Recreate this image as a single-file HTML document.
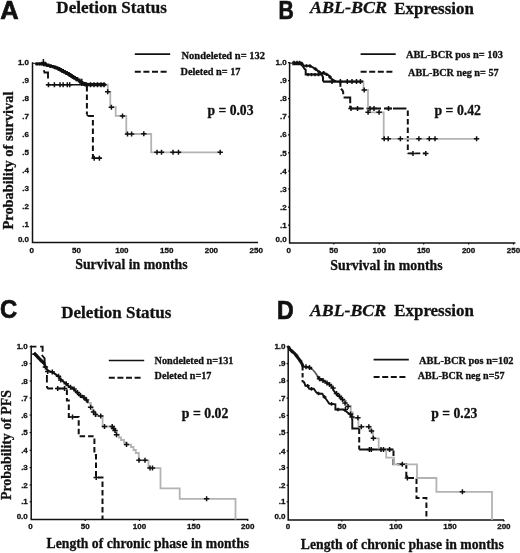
<!DOCTYPE html>
<html><head><meta charset="utf-8"><style>
html,body{margin:0;padding:0;background:#fff;}
svg{display:block;filter:grayscale(1);}
</style></head><body>
<svg width="520" height="553" viewBox="0 0 520 553">
<rect width="520" height="553" fill="#fff"/>
<text x="0.2" y="18.8" font-family="&quot;Liberation Sans&quot;, sans-serif" font-size="25" font-weight="bold" font-style="normal" text-anchor="start" fill="#111" textLength="18.4" lengthAdjust="spacingAndGlyphs" stroke="#111" stroke-width="0.7">A</text>
<text x="56.3" y="12.8" font-family="&quot;Liberation Serif&quot;, serif" font-size="17" font-weight="bold" font-style="normal" text-anchor="start" fill="#111" textLength="110.5" lengthAdjust="spacingAndGlyphs" stroke="#111" stroke-width="0.3">Deletion Status</text>
<path d="M32.5,62.2 V242.6 H258" stroke="#111" stroke-width="1.5" fill="none"/>
<text x="29" y="241.9" font-family="&quot;Liberation Sans&quot;, sans-serif" font-size="8" font-weight="bold" font-style="normal" text-anchor="end" fill="#111" stroke="#111" stroke-width="0.3">0.0</text>
<text x="29" y="227" font-family="&quot;Liberation Sans&quot;, sans-serif" font-size="8" font-weight="bold" font-style="normal" text-anchor="end" fill="#111" stroke="#111" stroke-width="0.3">.1</text>
<text x="29" y="208.9" font-family="&quot;Liberation Sans&quot;, sans-serif" font-size="8" font-weight="bold" font-style="normal" text-anchor="end" fill="#111" stroke="#111" stroke-width="0.3">.2</text>
<text x="29" y="190.9" font-family="&quot;Liberation Sans&quot;, sans-serif" font-size="8" font-weight="bold" font-style="normal" text-anchor="end" fill="#111" stroke="#111" stroke-width="0.3">.3</text>
<text x="29" y="172.9" font-family="&quot;Liberation Sans&quot;, sans-serif" font-size="8" font-weight="bold" font-style="normal" text-anchor="end" fill="#111" stroke="#111" stroke-width="0.3">.4</text>
<text x="29" y="154.8" font-family="&quot;Liberation Sans&quot;, sans-serif" font-size="8" font-weight="bold" font-style="normal" text-anchor="end" fill="#111" stroke="#111" stroke-width="0.3">.5</text>
<text x="29" y="136.8" font-family="&quot;Liberation Sans&quot;, sans-serif" font-size="8" font-weight="bold" font-style="normal" text-anchor="end" fill="#111" stroke="#111" stroke-width="0.3">.6</text>
<text x="29" y="118.7" font-family="&quot;Liberation Sans&quot;, sans-serif" font-size="8" font-weight="bold" font-style="normal" text-anchor="end" fill="#111" stroke="#111" stroke-width="0.3">.7</text>
<text x="29" y="100.6" font-family="&quot;Liberation Sans&quot;, sans-serif" font-size="8" font-weight="bold" font-style="normal" text-anchor="end" fill="#111" stroke="#111" stroke-width="0.3">.8</text>
<text x="29" y="82.8" font-family="&quot;Liberation Sans&quot;, sans-serif" font-size="8" font-weight="bold" font-style="normal" text-anchor="end" fill="#111" stroke="#111" stroke-width="0.3">.9</text>
<text x="29" y="64.6" font-family="&quot;Liberation Sans&quot;, sans-serif" font-size="8" font-weight="bold" font-style="normal" text-anchor="end" fill="#111" stroke="#111" stroke-width="0.3">1.0</text>
<text x="31.8" y="252.9" font-family="&quot;Liberation Sans&quot;, sans-serif" font-size="8" font-weight="bold" font-style="normal" text-anchor="middle" fill="#111" stroke="#111" stroke-width="0.3">0</text>
<text x="76.4" y="252.9" font-family="&quot;Liberation Sans&quot;, sans-serif" font-size="8" font-weight="bold" font-style="normal" text-anchor="middle" fill="#111" stroke="#111" stroke-width="0.3">50</text>
<text x="121.9" y="252.9" font-family="&quot;Liberation Sans&quot;, sans-serif" font-size="8" font-weight="bold" font-style="normal" text-anchor="middle" fill="#111" stroke="#111" stroke-width="0.3">100</text>
<text x="166.7" y="252.9" font-family="&quot;Liberation Sans&quot;, sans-serif" font-size="8" font-weight="bold" font-style="normal" text-anchor="middle" fill="#111" stroke="#111" stroke-width="0.3">150</text>
<text x="211.4" y="252.9" font-family="&quot;Liberation Sans&quot;, sans-serif" font-size="8" font-weight="bold" font-style="normal" text-anchor="middle" fill="#111" stroke="#111" stroke-width="0.3">200</text>
<text x="256.2" y="252.9" font-family="&quot;Liberation Sans&quot;, sans-serif" font-size="8" font-weight="bold" font-style="normal" text-anchor="middle" fill="#111" stroke="#111" stroke-width="0.3">250</text>
<text x="13" y="229.5" font-family="&quot;Liberation Serif&quot;, serif" font-size="14.6" font-weight="bold" font-style="normal" text-anchor="start" fill="#111" textLength="138" lengthAdjust="spacingAndGlyphs" transform="rotate(-90 13 229.5)" stroke="#111" stroke-width="0.3">Probability of survival</text>
<text x="75.2" y="268.8" font-family="&quot;Liberation Serif&quot;, serif" font-size="15" font-weight="bold" font-style="normal" text-anchor="start" fill="#111" textLength="112.5" lengthAdjust="spacingAndGlyphs" stroke="#111" stroke-width="0.3">Survival in months</text>
<path d="M134.8,54.2H170.2" stroke="#111" stroke-width="1.7" fill="none"/>
<path d="M134.8,71.8H166.8" stroke="#111" stroke-width="1.9" fill="none" stroke-dasharray="6,2.6"/>
<text x="181.5" y="58.7" font-family="&quot;Liberation Serif&quot;, serif" font-size="10.5" font-weight="bold" font-style="normal" text-anchor="start" fill="#111" textLength="83.5" lengthAdjust="spacingAndGlyphs" stroke="#111" stroke-width="0.3">Nondeleted n= 132</text>
<text x="180.5" y="74.6" font-family="&quot;Liberation Serif&quot;, serif" font-size="10.5" font-weight="bold" font-style="normal" text-anchor="start" fill="#111" textLength="60" lengthAdjust="spacingAndGlyphs" stroke="#111" stroke-width="0.3">Deleted n= 17</text>
<text x="207.5" y="114.6" font-family="&quot;Liberation Serif&quot;, serif" font-size="14" font-weight="bold" font-style="normal" text-anchor="start" fill="#111" textLength="46" lengthAdjust="spacingAndGlyphs" stroke="#111" stroke-width="0.3">p = 0.03</text>
<path d="M32.6,63.3H35.5" stroke="#111" stroke-width="1.0" fill="none"/>
<path d="M35.3,63.8 L43.4,63.8 L45.5,63.8 L45.5,64.8 L48,64.8 L48,65.6 L50.5,65.6 L50.5,66.3 L53,66.3 L53,66.9 L55,66.9 L55,67.6 L57,67.6 L57,68.4 L59,68.4 L59,69.4 L60.8,69.4 L60.8,70.4 L62.6,70.4 L62.6,71.4 L64.5,71.4 L64.5,72.4 L66.5,72.4 L66.5,73.4 L68.5,73.4 L68.5,74.4 L70,74.4 L70,75.4 L71.5,75.4 L71.5,76.3 L73,76.3 L73,77.3 L74.6,77.3 L74.6,78.3 L77,78.3 L77,79.8 L79.2,79.8 L79.2,81.2 L80.6,81.2 L80.6,82.3 L82,82.3 L82,83.5 L84.5,83.5 L84.5,84.7 L105.6,84.7" stroke="#111" stroke-width="2.8" fill="none" stroke-linejoin="miter"/>
<path d="M43.8,70.2 L44.5,72.5 H48 V78.4" stroke="#111" stroke-width="1.9" fill="none"/>
<path d="M46.8,84.7 H87" stroke="#111" stroke-width="1.6" fill="none"/>
<path d="M86.9,85 V114.5" stroke="#111" stroke-width="2.0" fill="none" stroke-dasharray="5.5,3" stroke-dashoffset="-1"/>
<path d="M86.9,114.5 Q87.5,116 89,116 H93 V117" stroke="#111" stroke-width="1.9" fill="none"/>
<path d="M92.9,117 V158.2" stroke="#111" stroke-width="2.0" fill="none" stroke-dasharray="5.5,3" stroke-dashoffset="-3"/>
<path d="M92.9,158.2 H101.5" stroke="#111" stroke-width="1.7" fill="none"/>
<path d="M105.6,84.7 L107.8,84.7 L107.8,91.8 L110.3,91.8 L110.3,107.2 L115.7,107.2 L115.7,115.9 L126.3,115.9 L126.3,134 L151.2,134 L151.2,152.3 L221,152.3" stroke="#b3b3b3" stroke-width="1.8" fill="none" stroke-linejoin="miter"/>
<path d="M105,91.8h5.4M107.7,89.32v4.97M108.7,107.2h5.4M111.4,104.72v4.97M119.8,115.9h5.4M122.5,113.42v4.97M124.8,134h5.4M127.5,131.52v4.97M128.9,134h5.4M131.6,131.52v4.97M141.1,133.8h5.4M143.8,131.32v4.97M154.3,152.3h5.4M157,149.82v4.97M158.8,152.3h5.4M161.5,149.82v4.97M170.3,152.3h5.4M173,149.82v4.97M175.8,152.3h5.4M178.5,149.82v4.97M217.5,152.2h5.4M220.2,149.72v4.97M91.5,158.2h5.4M94.2,155.72v4.97M96.7,158.2h5.4M99.4,155.72v4.97" stroke="#111" stroke-width="1.5" fill="none"/>
<path d="M45.8,84.7h5.4M48.5,82.22v4.97M51.7,84.7h5.4M54.4,82.22v4.97M57.3,84.7h5.4M60,82.22v4.97M60.4,84.7h5.4M63.1,82.22v4.97M64.6,84.7h5.4M67.3,82.22v4.97M67,84.7h5.4M69.7,82.22v4.97M83.7,84.7h5.4M86.4,82.22v4.97M87.8,84.7h5.4M90.5,82.22v4.97M91.3,84.7h5.4M94,82.22v4.97M94.8,84.7h5.4M97.5,82.22v4.97M98.3,84.7h5.4M101,82.22v4.97M101.3,84.7h5.4M104,82.22v4.97" stroke="#111" stroke-width="1.5" fill="none"/>
<path d="M79.2,82.4h5.2M81.8,78.8v7.2M40.8,62.6h5.2M43.4,59v7.2" stroke="#111" stroke-width="1.5" fill="none"/>
<path d="M84,84.6 H105.4" stroke="#111" stroke-width="3.4" fill="none"/>
<path d="M35.2,63.8h3.6M37,62.14v3.31M37.7,63.8h3.6M39.5,62.14v3.31M39.7,63.8h3.6M41.5,62.14v3.31M44.7,65.2h3.6M46.5,63.54v3.31M48.7,66.3h3.6M50.5,64.64v3.31M53.2,67.6h3.6M55,65.94v3.31M57.2,69.4h3.6M59,67.74v3.31M60.7,71.4h3.6M62.5,69.74v3.31M64.7,73.4h3.6M66.5,71.74v3.31M68.2,75.4h3.6M70,73.74v3.31M71.2,77.3h3.6M73,75.64v3.31M74.7,79.5h3.6M76.5,77.84v3.31" stroke="#111" stroke-width="1.5" fill="none"/>
<text x="278.6" y="18.8" font-family="&quot;Liberation Sans&quot;, sans-serif" font-size="25" font-weight="bold" font-style="normal" text-anchor="start" fill="#111" textLength="15.3" lengthAdjust="spacingAndGlyphs" stroke="#111" stroke-width="0.7">B</text>
<text x="310" y="13.3" font-family="&quot;Liberation Serif&quot;, serif" font-size="17" font-weight="bold" font-style="italic" text-anchor="start" fill="#111" textLength="77" lengthAdjust="spacingAndGlyphs" stroke="#111" stroke-width="0.3">ABL-BCR</text>
<text x="394.3" y="13.5" font-family="&quot;Liberation Serif&quot;, serif" font-size="17" font-weight="bold" font-style="normal" text-anchor="start" fill="#111" textLength="79.5" lengthAdjust="spacingAndGlyphs" stroke="#111" stroke-width="0.3">Expression</text>
<path d="M289.6,62.2 V243 H515.4" stroke="#111" stroke-width="1.5" fill="none"/>
<text x="286.6" y="242.4" font-family="&quot;Liberation Sans&quot;, sans-serif" font-size="8" font-weight="bold" font-style="normal" text-anchor="end" fill="#111" stroke="#111" stroke-width="0.3">0.0</text>
<text x="286.6" y="227.7" font-family="&quot;Liberation Sans&quot;, sans-serif" font-size="8" font-weight="bold" font-style="normal" text-anchor="end" fill="#111" stroke="#111" stroke-width="0.3">.1</text>
<path d="M288,225.1h1.6" stroke="#111" stroke-width="1.2"/>
<text x="286.6" y="209.8" font-family="&quot;Liberation Sans&quot;, sans-serif" font-size="8" font-weight="bold" font-style="normal" text-anchor="end" fill="#111" stroke="#111" stroke-width="0.3">.2</text>
<path d="M288,207.2h1.6" stroke="#111" stroke-width="1.2"/>
<text x="286.6" y="191.6" font-family="&quot;Liberation Sans&quot;, sans-serif" font-size="8" font-weight="bold" font-style="normal" text-anchor="end" fill="#111" stroke="#111" stroke-width="0.3">.3</text>
<path d="M288,189h1.6" stroke="#111" stroke-width="1.2"/>
<text x="286.6" y="173.6" font-family="&quot;Liberation Sans&quot;, sans-serif" font-size="8" font-weight="bold" font-style="normal" text-anchor="end" fill="#111" stroke="#111" stroke-width="0.3">.4</text>
<path d="M288,171h1.6" stroke="#111" stroke-width="1.2"/>
<text x="286.6" y="155.5" font-family="&quot;Liberation Sans&quot;, sans-serif" font-size="8" font-weight="bold" font-style="normal" text-anchor="end" fill="#111" stroke="#111" stroke-width="0.3">.5</text>
<path d="M288,152.9h1.6" stroke="#111" stroke-width="1.2"/>
<text x="286.6" y="137.4" font-family="&quot;Liberation Sans&quot;, sans-serif" font-size="8" font-weight="bold" font-style="normal" text-anchor="end" fill="#111" stroke="#111" stroke-width="0.3">.6</text>
<path d="M288,134.8h1.6" stroke="#111" stroke-width="1.2"/>
<text x="286.6" y="119.4" font-family="&quot;Liberation Sans&quot;, sans-serif" font-size="8" font-weight="bold" font-style="normal" text-anchor="end" fill="#111" stroke="#111" stroke-width="0.3">.7</text>
<path d="M288,116.8h1.6" stroke="#111" stroke-width="1.2"/>
<text x="286.6" y="101.2" font-family="&quot;Liberation Sans&quot;, sans-serif" font-size="8" font-weight="bold" font-style="normal" text-anchor="end" fill="#111" stroke="#111" stroke-width="0.3">.8</text>
<path d="M288,98.6h1.6" stroke="#111" stroke-width="1.2"/>
<text x="286.6" y="83.3" font-family="&quot;Liberation Sans&quot;, sans-serif" font-size="8" font-weight="bold" font-style="normal" text-anchor="end" fill="#111" stroke="#111" stroke-width="0.3">.9</text>
<path d="M288,80.7h1.6" stroke="#111" stroke-width="1.2"/>
<text x="286.6" y="65.2" font-family="&quot;Liberation Sans&quot;, sans-serif" font-size="8" font-weight="bold" font-style="normal" text-anchor="end" fill="#111" stroke="#111" stroke-width="0.3">1.0</text>
<path d="M288,62.6h1.6" stroke="#111" stroke-width="1.2"/>
<text x="288.8" y="252.9" font-family="&quot;Liberation Sans&quot;, sans-serif" font-size="8" font-weight="bold" font-style="normal" text-anchor="middle" fill="#111" stroke="#111" stroke-width="0.3">0</text>
<text x="333.8" y="252.9" font-family="&quot;Liberation Sans&quot;, sans-serif" font-size="8" font-weight="bold" font-style="normal" text-anchor="middle" fill="#111" stroke="#111" stroke-width="0.3">50</text>
<path d="M333.8,243v1.6" stroke="#111" stroke-width="1.2"/>
<text x="379.2" y="252.9" font-family="&quot;Liberation Sans&quot;, sans-serif" font-size="8" font-weight="bold" font-style="normal" text-anchor="middle" fill="#111" stroke="#111" stroke-width="0.3">100</text>
<path d="M379.2,243v1.6" stroke="#111" stroke-width="1.2"/>
<text x="423.6" y="252.9" font-family="&quot;Liberation Sans&quot;, sans-serif" font-size="8" font-weight="bold" font-style="normal" text-anchor="middle" fill="#111" stroke="#111" stroke-width="0.3">150</text>
<path d="M423.6,243v1.6" stroke="#111" stroke-width="1.2"/>
<text x="468.6" y="252.9" font-family="&quot;Liberation Sans&quot;, sans-serif" font-size="8" font-weight="bold" font-style="normal" text-anchor="middle" fill="#111" stroke="#111" stroke-width="0.3">200</text>
<path d="M468.6,243v1.6" stroke="#111" stroke-width="1.2"/>
<text x="513.5" y="252.9" font-family="&quot;Liberation Sans&quot;, sans-serif" font-size="8" font-weight="bold" font-style="normal" text-anchor="middle" fill="#111" stroke="#111" stroke-width="0.3">250</text>
<path d="M513.5,243v1.6" stroke="#111" stroke-width="1.2"/>
<text x="330.3" y="270" font-family="&quot;Liberation Serif&quot;, serif" font-size="15" font-weight="bold" font-style="normal" text-anchor="start" fill="#111" textLength="112.3" lengthAdjust="spacingAndGlyphs" stroke="#111" stroke-width="0.3">Survival in months</text>
<path d="M360.6,54.2H395.7" stroke="#111" stroke-width="1.7" fill="none"/>
<path d="M360.6,71.8H392.6" stroke="#111" stroke-width="1.9" fill="none" stroke-dasharray="6,2.6"/>
<text x="405.9" y="58.3" font-family="&quot;Liberation Serif&quot;, serif" font-size="10.5" font-weight="bold" font-style="normal" text-anchor="start" fill="#111" textLength="97" lengthAdjust="spacingAndGlyphs" stroke="#111" stroke-width="0.3">ABL-BCR pos n= 103</text>
<text x="408.1" y="75.7" font-family="&quot;Liberation Serif&quot;, serif" font-size="10.5" font-weight="bold" font-style="normal" text-anchor="start" fill="#111" textLength="90.5" lengthAdjust="spacingAndGlyphs" stroke="#111" stroke-width="0.3">ABL-BCR neg n= 57</text>
<text x="434.5" y="115.2" font-family="&quot;Liberation Serif&quot;, serif" font-size="14" font-weight="bold" font-style="normal" text-anchor="start" fill="#111" textLength="46.5" lengthAdjust="spacingAndGlyphs" stroke="#111" stroke-width="0.3">p = 0.42</text>
<path d="M289.8,63.2H292.3" stroke="#111" stroke-width="1.0" fill="none"/>
<path d="M292.3,63.5 L301.4,63.5 L302.8,65.5" stroke="#111" stroke-width="3.6" fill="none" stroke-linejoin="miter"/>
<path d="M302.6,65.8 L309.5,65.8 L313.4,67.7 L317.2,70.4 L321,73.3 L323.4,73.3 L328.8,75.4 L331,78.5 L334,80.4 L336,81.4" stroke="#111" stroke-width="2.0" fill="none" stroke-linejoin="round"/>
<path d="M302.6,65.8 L304.2,68.5 L305.7,70 L305.7,74.6 L321.8,74.6 L323,77.3 L323,81.5" stroke="#111" stroke-width="2.0" fill="none" stroke-linejoin="miter"/>
<path d="M323,81.7 H363.5" stroke="#111" stroke-width="2.2" fill="none"/>
<path d="M340.4,81.5 V86.8" stroke="#111" stroke-width="2.0" fill="none"/>
<path d="M341,88.8 L342.6,90.5 L343.2,92 V94.2" stroke="#111" stroke-width="2.0" fill="none"/>
<path d="M343.6,97.5 H350.2 V103.3" stroke="#111" stroke-width="2.0" fill="none"/>
<path d="M350.2,105.6 V108.5" stroke="#111" stroke-width="2.0" fill="none"/>
<path d="M350.2,108.5 H407.8" stroke="#111" stroke-width="1.9" fill="none" stroke-dasharray="13.4,2.9,14.5,3,8,1" stroke-dashoffset="0"/>
<path d="M407.8,108.5 V153.4" stroke="#111" stroke-width="2.0" fill="none" stroke-dasharray="5.5,3" stroke-dashoffset="-2"/>
<path d="M407.8,153.4 H425.8" stroke="#111" stroke-width="1.8" fill="none" stroke-dasharray="5,2.5"/>
<path d="M363.5,81.5 L363.5,90 L368,90 L368,112.3 L383.7,112.3 L383.7,138.8 L477.8,138.8" stroke="#b3b3b3" stroke-width="1.8" fill="none" stroke-linejoin="miter"/>
<path d="M329.3,81.5h5.4M332,79.02v4.97M337.7,81.5h5.4M340.4,79.02v4.97M344.6,81.5h5.4M347.3,79.02v4.97M349.3,81.5h5.4M352,79.02v4.97M353.8,81.5h5.4M356.5,79.02v4.97M357.7,81.5h5.4M360.4,79.02v4.97M361.5,90h5.4M364.2,87.52v4.97M365.4,112.3h5.4M368.1,109.82v4.97M376.4,112.3h5.4M379.1,109.82v4.97M348.3,108.5h5.4M351,106.02v4.97M354.8,108.5h5.4M357.5,106.02v4.97M367.3,108.5h5.4M370,106.02v4.97M371.3,108.5h5.4M374,106.02v4.97M385.8,108.5h5.4M388.5,106.02v4.97M381.5,138.8h5.4M384.2,136.32v4.97M385.5,138.8h5.4M388.2,136.32v4.97M397.7,138.8h5.4M400.4,136.32v4.97M416.2,138.8h5.4M418.9,136.32v4.97M426.6,138.8h5.4M429.3,136.32v4.97M432.3,138.8h5.4M435,136.32v4.97M473.9,138.8h5.4M476.6,136.32v4.97M410.3,153.4h5.4M413,150.92v4.97M423.1,153.4h5.4M425.8,150.92v4.97" stroke="#111" stroke-width="1.5" fill="none"/>
<path d="M306.2,74.6h3.6M308,72.94v3.31M309.7,74.6h3.6M311.5,72.94v3.31M313.2,74.6h3.6M315,72.94v3.31M316.7,74.6h3.6M318.5,72.94v3.31M304.7,65.8h3.6M306.5,64.14v3.31M308.2,66h3.6M310,64.34v3.31M313.7,69h3.6M315.5,67.34v3.31M317.2,71.8h3.6M319,70.14v3.31M321.8,72.6h3.6M323.6,70.94v3.31M324.7,74.3h3.6M326.5,72.64v3.31M328.2,77h3.6M330,75.34v3.31" stroke="#111" stroke-width="1.5" fill="none"/>
<path d="M292.2,62.5h3.6M294,60.84v3.31M295.2,62.5h3.6M297,60.84v3.31M297.7,62.5h3.6M299.5,60.84v3.31" stroke="#111" stroke-width="1.5" fill="none"/>
<text x="-0.1" y="317.9" font-family="&quot;Liberation Sans&quot;, sans-serif" font-size="25" font-weight="bold" font-style="normal" text-anchor="start" fill="#111" textLength="17.2" lengthAdjust="spacingAndGlyphs" stroke="#111" stroke-width="0.7">C</text>
<text x="61.3" y="318.2" font-family="&quot;Liberation Serif&quot;, serif" font-size="17" font-weight="bold" font-style="normal" text-anchor="start" fill="#111" textLength="110" lengthAdjust="spacingAndGlyphs" stroke="#111" stroke-width="0.3">Deletion Status</text>
<path d="M31.2,345.5 V519.4 H248.3" stroke="#111" stroke-width="1.5" fill="none"/>
<text x="27.8" y="518.5" font-family="&quot;Liberation Sans&quot;, sans-serif" font-size="8" font-weight="bold" font-style="normal" text-anchor="end" fill="#111" stroke="#111" stroke-width="0.3">0.0</text>
<text x="27.8" y="504.4" font-family="&quot;Liberation Sans&quot;, sans-serif" font-size="8" font-weight="bold" font-style="normal" text-anchor="end" fill="#111" stroke="#111" stroke-width="0.3">.1</text>
<path d="M29.6,501.8h1.6" stroke="#111" stroke-width="1.2"/>
<text x="27.8" y="487.6" font-family="&quot;Liberation Sans&quot;, sans-serif" font-size="8" font-weight="bold" font-style="normal" text-anchor="end" fill="#111" stroke="#111" stroke-width="0.3">.2</text>
<path d="M29.6,485h1.6" stroke="#111" stroke-width="1.2"/>
<text x="27.8" y="470.2" font-family="&quot;Liberation Sans&quot;, sans-serif" font-size="8" font-weight="bold" font-style="normal" text-anchor="end" fill="#111" stroke="#111" stroke-width="0.3">.3</text>
<path d="M29.6,467.6h1.6" stroke="#111" stroke-width="1.2"/>
<text x="27.8" y="452.9" font-family="&quot;Liberation Sans&quot;, sans-serif" font-size="8" font-weight="bold" font-style="normal" text-anchor="end" fill="#111" stroke="#111" stroke-width="0.3">.4</text>
<path d="M29.6,450.3h1.6" stroke="#111" stroke-width="1.2"/>
<text x="27.8" y="435.2" font-family="&quot;Liberation Sans&quot;, sans-serif" font-size="8" font-weight="bold" font-style="normal" text-anchor="end" fill="#111" stroke="#111" stroke-width="0.3">.5</text>
<path d="M29.6,432.6h1.6" stroke="#111" stroke-width="1.2"/>
<text x="27.8" y="417.6" font-family="&quot;Liberation Sans&quot;, sans-serif" font-size="8" font-weight="bold" font-style="normal" text-anchor="end" fill="#111" stroke="#111" stroke-width="0.3">.6</text>
<path d="M29.6,415h1.6" stroke="#111" stroke-width="1.2"/>
<text x="27.8" y="400.6" font-family="&quot;Liberation Sans&quot;, sans-serif" font-size="8" font-weight="bold" font-style="normal" text-anchor="end" fill="#111" stroke="#111" stroke-width="0.3">.7</text>
<path d="M29.6,398h1.6" stroke="#111" stroke-width="1.2"/>
<text x="27.8" y="383.6" font-family="&quot;Liberation Sans&quot;, sans-serif" font-size="8" font-weight="bold" font-style="normal" text-anchor="end" fill="#111" stroke="#111" stroke-width="0.3">.8</text>
<path d="M29.6,381h1.6" stroke="#111" stroke-width="1.2"/>
<text x="27.8" y="366.3" font-family="&quot;Liberation Sans&quot;, sans-serif" font-size="8" font-weight="bold" font-style="normal" text-anchor="end" fill="#111" stroke="#111" stroke-width="0.3">.9</text>
<path d="M29.6,363.7h1.6" stroke="#111" stroke-width="1.2"/>
<text x="27.8" y="349.3" font-family="&quot;Liberation Sans&quot;, sans-serif" font-size="8" font-weight="bold" font-style="normal" text-anchor="end" fill="#111" stroke="#111" stroke-width="0.3">1.0</text>
<path d="M29.6,346.7h1.6" stroke="#111" stroke-width="1.2"/>
<text x="30.6" y="528.8" font-family="&quot;Liberation Sans&quot;, sans-serif" font-size="8" font-weight="bold" font-style="normal" text-anchor="middle" fill="#111" stroke="#111" stroke-width="0.3">0</text>
<text x="85.2" y="528.8" font-family="&quot;Liberation Sans&quot;, sans-serif" font-size="8" font-weight="bold" font-style="normal" text-anchor="middle" fill="#111" stroke="#111" stroke-width="0.3">50</text>
<path d="M85.2,519.4v1.6" stroke="#111" stroke-width="1.2"/>
<text x="139.5" y="528.8" font-family="&quot;Liberation Sans&quot;, sans-serif" font-size="8" font-weight="bold" font-style="normal" text-anchor="middle" fill="#111" stroke="#111" stroke-width="0.3">100</text>
<path d="M139.5,519.4v1.6" stroke="#111" stroke-width="1.2"/>
<text x="193.7" y="528.8" font-family="&quot;Liberation Sans&quot;, sans-serif" font-size="8" font-weight="bold" font-style="normal" text-anchor="middle" fill="#111" stroke="#111" stroke-width="0.3">150</text>
<path d="M193.7,519.4v1.6" stroke="#111" stroke-width="1.2"/>
<text x="247.7" y="528.8" font-family="&quot;Liberation Sans&quot;, sans-serif" font-size="8" font-weight="bold" font-style="normal" text-anchor="middle" fill="#111" stroke="#111" stroke-width="0.3">200</text>
<path d="M247.7,519.4v1.6" stroke="#111" stroke-width="1.2"/>
<text x="10.9" y="500" font-family="&quot;Liberation Serif&quot;, serif" font-size="14.2" font-weight="bold" font-style="normal" text-anchor="start" fill="#111" textLength="110" lengthAdjust="spacingAndGlyphs" transform="rotate(-90 10.9 500)" stroke="#111" stroke-width="0.3">Probability of PFS</text>
<text x="46.6" y="548" font-family="&quot;Liberation Serif&quot;, serif" font-size="15" font-weight="bold" font-style="normal" text-anchor="start" fill="#111" textLength="202.5" lengthAdjust="spacingAndGlyphs" stroke="#111" stroke-width="0.3">Length of chronic phase in months</text>
<path d="M108.8,360.5H144.2" stroke="#111" stroke-width="1.7" fill="none"/>
<path d="M108.8,377.8H140.8" stroke="#111" stroke-width="1.9" fill="none" stroke-dasharray="6,2.6"/>
<text x="154.6" y="364.2" font-family="&quot;Liberation Serif&quot;, serif" font-size="10.5" font-weight="bold" font-style="normal" text-anchor="start" fill="#111" textLength="78.8" lengthAdjust="spacingAndGlyphs" stroke="#111" stroke-width="0.3">Nondeleted n=131</text>
<text x="154.6" y="379" font-family="&quot;Liberation Serif&quot;, serif" font-size="10.5" font-weight="bold" font-style="normal" text-anchor="start" fill="#111" textLength="56.8" lengthAdjust="spacingAndGlyphs" stroke="#111" stroke-width="0.3">Deleted n=17</text>
<text x="181.8" y="418.4" font-family="&quot;Liberation Serif&quot;, serif" font-size="14" font-weight="bold" font-style="normal" text-anchor="start" fill="#111" textLength="46.6" lengthAdjust="spacingAndGlyphs" stroke="#111" stroke-width="0.3">p = 0.02</text>
<path d="M31.2,346.6 H42.6 V351.7" stroke="#111" stroke-width="1.9" fill="none" stroke-dasharray="5.2,3.8,7.6,20"/>
<path d="M41.8,355 L44.6,358.4 V367 H46.9" stroke="#111" stroke-width="1.9" fill="none"/>
<path d="M46.9,375 V386.5 Q47.2,388.5 49,388.5 H66.9" stroke="#111" stroke-width="1.9" fill="none" stroke-dasharray="7.5,3.5" stroke-dashoffset="0"/>
<path d="M66.9,388.5 V400.5 H68.8 V416.9 H78.7 V436.3 H94.4 V455 H96 V477.4 H102.5 V519.4" stroke="#111" stroke-width="2.0" fill="none" stroke-dasharray="5.5,3" stroke-dashoffset="-1"/>
<path d="M31.3,354.1H34" stroke="#111" stroke-width="1.2" fill="none"/>
<path d="M33.9,353 L36.9,356 L40.5,359.8 L43.8,363 L45.4,366.3 L47.7,370.8 L52.3,372.2 L54.6,373.6 L58.5,376.4 L60.8,379.6 L66.2,383.8 L69,386.5 L73.4,388.6 L76,391.5 L79.2,394.8 L82.5,397 L86.1,399.4 L88.5,403" stroke="#111" stroke-width="2.0" fill="none" stroke-linejoin="round"/>
<path d="M33.9,353 L36.9,356 L40.5,359.8 L43.8,363" stroke="#111" stroke-width="3.2" fill="none" stroke-linejoin="round"/>
<path d="M88.5,403 L90.8,403 L90.8,407.1 L92.5,407.1 L92.5,411 L94.5,411 L94.5,413.5 L96.5,413.5 L96.5,416 L102.6,416 L102.6,426.5 L112,426.5 L114,426.5 L114,429.5 L115.5,429.5 L115.5,432 L116.5,432 L116.5,434.6 L119,434.6 L119,437.5 L121,437.5 L121,440 L124,440 L124,442.5 L126.5,442.5 L126.5,444.6 L131,444.6 L131,447 L133.5,447 L133.5,450 L135.8,450 L135.8,453 L138.8,453 L138.8,460.3 L148.5,460.3 L148.5,468.1 L160.5,468.1 L160.5,488.4 L179.7,488.4 L179.7,498.8 L235.5,498.8 L235.5,519.4" stroke="#b3b3b3" stroke-width="1.8" fill="none" stroke-linejoin="miter"/>
<path d="M87.9,407.3h5.4M90.6,404.82v4.97M90.8,412h5.4M93.5,409.52v4.97M92.8,414.5h5.4M95.5,412.02v4.97M98,416h5.4M100.7,413.52v4.97M101.8,426.5h5.4M104.5,424.02v4.97M109.5,426.5h5.4M112.2,424.02v4.97M110.8,428.5h5.4M113.5,426.02v4.97M112.3,430.5h5.4M115,428.02v4.97M113.8,434.7h5.4M116.5,432.22v4.97M123.8,444.6h5.4M126.5,442.12v4.97M136.3,460.3h5.4M139,457.82v4.97M142.3,460.3h5.4M145,457.82v4.97M147.3,468.1h5.4M150,465.62v4.97M149.8,468.1h5.4M152.5,465.62v4.97M203.9,498.8h5.4M206.6,496.32v4.97M55,388.5h5.4M57.7,386.02v4.97M61.9,388.5h5.4M64.6,386.02v4.97M69.8,416.9h5.4M72.5,414.42v4.97M93.5,477.4h5.4M96.2,474.92v4.97" stroke="#111" stroke-width="1.5" fill="none"/>
<path d="M42.7,367h5.4M45.4,364.52v4.97M45,371.5h5.4M47.7,369.02v4.97M49.6,372h5.4M52.3,369.52v4.97M55.8,376.2h5.4M58.5,373.72v4.97M58.1,380h5.4M60.8,377.52v4.97M63.5,383.8h5.4M66.2,381.32v4.97M67.8,387.2h5.4M70.5,384.72v4.97M71.3,389h5.4M74,386.52v4.97M74.8,392.6h5.4M77.5,390.12v4.97M77.8,395.4h5.4M80.5,392.92v4.97M81.3,397.6h5.4M84,395.12v4.97M83.8,400h5.4M86.5,397.52v4.97" stroke="#111" stroke-width="1.5" fill="none"/>
<path d="M36.2,357.5h3.6M38,355.84v3.31M39.2,360.5h3.6M41,358.84v3.31M42,363h3.6M43.8,361.34v3.31" stroke="#111" stroke-width="1.5" fill="none"/>
<text x="277.1" y="318.5" font-family="&quot;Liberation Sans&quot;, sans-serif" font-size="25" font-weight="bold" font-style="normal" text-anchor="start" fill="#111" textLength="16.7" lengthAdjust="spacingAndGlyphs" stroke="#111" stroke-width="0.7">D</text>
<text x="310" y="315.7" font-family="&quot;Liberation Serif&quot;, serif" font-size="17" font-weight="bold" font-style="italic" text-anchor="start" fill="#111" textLength="76" lengthAdjust="spacingAndGlyphs" stroke="#111" stroke-width="0.3">ABL-BCR</text>
<text x="394.3" y="315.8" font-family="&quot;Liberation Serif&quot;, serif" font-size="17" font-weight="bold" font-style="normal" text-anchor="start" fill="#111" textLength="79.5" lengthAdjust="spacingAndGlyphs" stroke="#111" stroke-width="0.3">Expression</text>
<path d="M288.2,345.5 V519.9 H504" stroke="#111" stroke-width="1.5" fill="none"/>
<text x="285.5" y="518.5" font-family="&quot;Liberation Sans&quot;, sans-serif" font-size="8" font-weight="bold" font-style="normal" text-anchor="end" fill="#111" stroke="#111" stroke-width="0.3">0.0</text>
<text x="285.5" y="504.4" font-family="&quot;Liberation Sans&quot;, sans-serif" font-size="8" font-weight="bold" font-style="normal" text-anchor="end" fill="#111" stroke="#111" stroke-width="0.3">.1</text>
<path d="M286.6,501.8h1.6" stroke="#111" stroke-width="1.2"/>
<text x="285.5" y="487.9" font-family="&quot;Liberation Sans&quot;, sans-serif" font-size="8" font-weight="bold" font-style="normal" text-anchor="end" fill="#111" stroke="#111" stroke-width="0.3">.2</text>
<path d="M286.6,485.3h1.6" stroke="#111" stroke-width="1.2"/>
<text x="285.5" y="470.2" font-family="&quot;Liberation Sans&quot;, sans-serif" font-size="8" font-weight="bold" font-style="normal" text-anchor="end" fill="#111" stroke="#111" stroke-width="0.3">.3</text>
<path d="M286.6,467.6h1.6" stroke="#111" stroke-width="1.2"/>
<text x="285.5" y="453.6" font-family="&quot;Liberation Sans&quot;, sans-serif" font-size="8" font-weight="bold" font-style="normal" text-anchor="end" fill="#111" stroke="#111" stroke-width="0.3">.4</text>
<path d="M286.6,451h1.6" stroke="#111" stroke-width="1.2"/>
<text x="285.5" y="435.2" font-family="&quot;Liberation Sans&quot;, sans-serif" font-size="8" font-weight="bold" font-style="normal" text-anchor="end" fill="#111" stroke="#111" stroke-width="0.3">.5</text>
<path d="M286.6,432.6h1.6" stroke="#111" stroke-width="1.2"/>
<text x="285.5" y="418" font-family="&quot;Liberation Sans&quot;, sans-serif" font-size="8" font-weight="bold" font-style="normal" text-anchor="end" fill="#111" stroke="#111" stroke-width="0.3">.6</text>
<path d="M286.6,415.4h1.6" stroke="#111" stroke-width="1.2"/>
<text x="285.5" y="400.7" font-family="&quot;Liberation Sans&quot;, sans-serif" font-size="8" font-weight="bold" font-style="normal" text-anchor="end" fill="#111" stroke="#111" stroke-width="0.3">.7</text>
<path d="M286.6,398.1h1.6" stroke="#111" stroke-width="1.2"/>
<text x="285.5" y="383.4" font-family="&quot;Liberation Sans&quot;, sans-serif" font-size="8" font-weight="bold" font-style="normal" text-anchor="end" fill="#111" stroke="#111" stroke-width="0.3">.8</text>
<path d="M286.6,380.8h1.6" stroke="#111" stroke-width="1.2"/>
<text x="285.5" y="366.2" font-family="&quot;Liberation Sans&quot;, sans-serif" font-size="8" font-weight="bold" font-style="normal" text-anchor="end" fill="#111" stroke="#111" stroke-width="0.3">.9</text>
<path d="M286.6,363.6h1.6" stroke="#111" stroke-width="1.2"/>
<text x="285.5" y="349.3" font-family="&quot;Liberation Sans&quot;, sans-serif" font-size="8" font-weight="bold" font-style="normal" text-anchor="end" fill="#111" stroke="#111" stroke-width="0.3">1.0</text>
<path d="M286.6,346.7h1.6" stroke="#111" stroke-width="1.2"/>
<text x="287.9" y="529.2" font-family="&quot;Liberation Sans&quot;, sans-serif" font-size="8" font-weight="bold" font-style="normal" text-anchor="middle" fill="#111" stroke="#111" stroke-width="0.3">0</text>
<text x="341.9" y="529.2" font-family="&quot;Liberation Sans&quot;, sans-serif" font-size="8" font-weight="bold" font-style="normal" text-anchor="middle" fill="#111" stroke="#111" stroke-width="0.3">50</text>
<path d="M341.9,519.9v1.6" stroke="#111" stroke-width="1.2"/>
<text x="395.9" y="529.2" font-family="&quot;Liberation Sans&quot;, sans-serif" font-size="8" font-weight="bold" font-style="normal" text-anchor="middle" fill="#111" stroke="#111" stroke-width="0.3">100</text>
<path d="M395.9,519.9v1.6" stroke="#111" stroke-width="1.2"/>
<text x="450" y="529.2" font-family="&quot;Liberation Sans&quot;, sans-serif" font-size="8" font-weight="bold" font-style="normal" text-anchor="middle" fill="#111" stroke="#111" stroke-width="0.3">150</text>
<path d="M450,519.9v1.6" stroke="#111" stroke-width="1.2"/>
<text x="503.9" y="529.2" font-family="&quot;Liberation Sans&quot;, sans-serif" font-size="8" font-weight="bold" font-style="normal" text-anchor="middle" fill="#111" stroke="#111" stroke-width="0.3">200</text>
<path d="M503.9,519.9v1.6" stroke="#111" stroke-width="1.2"/>
<text x="300.8" y="548.5" font-family="&quot;Liberation Serif&quot;, serif" font-size="15" font-weight="bold" font-style="normal" text-anchor="start" fill="#111" textLength="203" lengthAdjust="spacingAndGlyphs" stroke="#111" stroke-width="0.3">Length of chronic phase in months</text>
<path d="M373.6,359.7H408.8" stroke="#111" stroke-width="1.7" fill="none"/>
<path d="M373.6,377H405.5" stroke="#111" stroke-width="1.9" fill="none" stroke-dasharray="6,2.6"/>
<text x="419.1" y="363.7" font-family="&quot;Liberation Serif&quot;, serif" font-size="10.5" font-weight="bold" font-style="normal" text-anchor="start" fill="#111" textLength="94.5" lengthAdjust="spacingAndGlyphs" stroke="#111" stroke-width="0.3">ABL-BCR pos n=102</text>
<text x="417.7" y="379.3" font-family="&quot;Liberation Serif&quot;, serif" font-size="10.5" font-weight="bold" font-style="normal" text-anchor="start" fill="#111" textLength="86.8" lengthAdjust="spacingAndGlyphs" stroke="#111" stroke-width="0.3">ABL-BCR neg n=57</text>
<text x="431.3" y="418.4" font-family="&quot;Liberation Serif&quot;, serif" font-size="14" font-weight="bold" font-style="normal" text-anchor="start" fill="#111" textLength="46" lengthAdjust="spacingAndGlyphs" stroke="#111" stroke-width="0.3">p = 0.23</text>
<path d="M288.4,346.5 L289.9,349.3 L294.8,353.7 L299.6,360 L302.1,364 L303,366.4" stroke="#111" stroke-width="3.0" fill="none" stroke-linejoin="round"/>
<path d="M302.6,366 V382.3" stroke="#111" stroke-width="2.0" fill="none" stroke-dasharray="4.5,2.5"/>
<path d="M302.9,382.3 L304.2,382.3 L305.4,385.8 L307.7,385.8 L309.2,388.8 L313.8,388.8 L316.2,392.3 L319.2,393.8 L322.3,393.8 L323.8,396.2 L326.2,399.2 L329.2,403.6 L335.4,404.4 L335.4,409.5 L343,409.5 L346,411.3 L350,414.5 L352.3,417.4 L352.3,428.5 L359.2,428.5" stroke="#111" stroke-width="1.9" fill="none" stroke-linejoin="miter"/>
<path d="M359.2,428.5 V449.5" stroke="#111" stroke-width="2.0" fill="none" stroke-dasharray="5.5,3"/>
<path d="M359.2,449.5 H393.5" stroke="#111" stroke-width="1.8" fill="none"/>
<path d="M393.5,449.5 V464.3 H406.3 V478 H416.5 V498 H426.4 V520" stroke="#111" stroke-width="2.0" fill="none" stroke-dasharray="5.5,3" stroke-dashoffset="-1"/>
<path d="M303,366.4 L308.5,367.3 L312.3,369.2" stroke="#111" stroke-width="1.9" fill="none" stroke-linejoin="miter"/>
<path d="M312.3,369.2 L315,372.3 L317.3,375.8" stroke="#555" stroke-width="1.6" fill="none" stroke-linejoin="miter"/>
<path d="M317.3,375.8 L318.8,378.5 L323,380.4 L327,383 L330.8,385.4 L332.7,387.7 L333.8,390.8 L337,394.6 L340,397 L343.8,400.8" stroke="#111" stroke-width="1.9" fill="none" stroke-linejoin="miter"/>
<path d="M343.8,400.8 L346,400.8 L346,404.6 L348.5,404.6 L348.5,406 L350.8,406 L350.8,412.3 L352.7,412.3 L352.7,418 L358.4,418 L358.4,426.7 L370,426.7 L370,431 L373,431 L373,438.3 L378.7,438.3 L378.7,449.5 L386.2,449.5 L386.2,457.6 L394,457.6 L394,464.3 L417,464.3 L417,478 L436.4,478 L436.4,491.8 L492,491.8 L492,520" stroke="#b3b3b3" stroke-width="1.8" fill="none" stroke-linejoin="miter"/>
<path d="M342.7,409.5h5.4M345.4,407.02v4.97M366.7,449.5h5.4M369.4,447.02v4.97M368.6,449.5h5.4M371.3,447.02v4.97M378.3,449.5h5.4M381,447.02v4.97M380.8,449.5h5.4M383.5,447.02v4.97M386.9,449.5h5.4M389.6,447.02v4.97M399.6,464.3h5.4M402.3,461.82v4.97M404.7,478h5.4M407.4,475.52v4.97M355.2,417.8h5.4M357.9,415.32v4.97M358.6,426.7h5.4M361.3,424.22v4.97M366.1,426.7h5.4M368.8,424.22v4.97M368.8,431h5.4M371.5,428.52v4.97M370.7,438.3h5.4M373.4,435.82v4.97M459.7,491.8h5.4M462.4,489.32v4.97M345.3,406.5h5.4M348,404.02v4.97M347.8,414h5.4M350.5,411.52v4.97M349.3,417h5.4M352,414.52v4.97M342.3,403h5.4M345,400.52v4.97" stroke="#111" stroke-width="1.5" fill="none"/>
<path d="M303.3,366.8h5.4M306,364.32v4.97M306.8,367.5h5.4M309.5,365.02v4.97M316.8,378.8h5.4M319.5,376.32v4.97M320.3,380.4h5.4M323,377.92v4.97M324.3,383h5.4M327,380.52v4.97M326.8,384.5h5.4M329.5,382.02v4.97M330.3,388h5.4M333,385.52v4.97M333.8,393.5h5.4M336.5,391.02v4.97M336.8,396.3h5.4M339.5,393.82v4.97M339.8,399.5h5.4M342.5,397.02v4.97" stroke="#111" stroke-width="1.5" fill="none"/>
<path d="M305.7,385.8h4M307.7,383.96v3.68M309.5,388.8h4M311.5,386.96v3.68M316.5,393.5h4M318.5,391.66v3.68M322.5,397h4M324.5,395.16v3.68M329.5,403.8h4M331.5,401.96v3.68M336,409.5h4M338,407.66v3.68" stroke="#111" stroke-width="1.5" fill="none"/>
<path d="M290.2,351.5h3.6M292,349.84v3.31M294.7,355.5h3.6M296.5,353.84v3.31M298.7,361h3.6M300.5,359.34v3.31" stroke="#111" stroke-width="1.5" fill="none"/>
</svg>
</body></html>
